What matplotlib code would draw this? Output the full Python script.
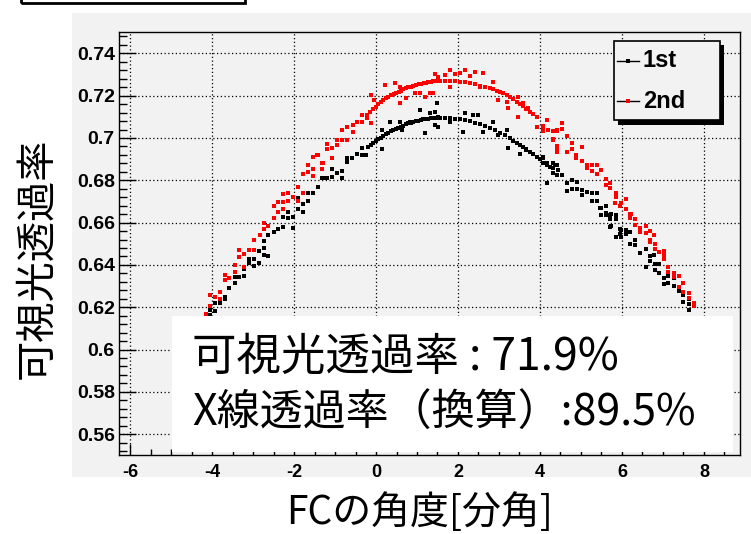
import numpy as np
import matplotlib
matplotlib.use("Agg")
import matplotlib.pyplot as plt
from matplotlib.patches import Rectangle
from matplotlib.lines import Line2D
from matplotlib.ticker import MultipleLocator

plt.rcParams['axes.unicode_minus'] = False

# (angle [arcmin], visible transmittance)
first_run = [
    (-4.17, 0.611), (-4.15, 0.6145), (-4.05, 0.6165), (-4.05, 0.6185), (-3.93, 0.618), (-3.93, 0.622),
    (-3.80, 0.622), (-3.68, 0.624), (-3.68, 0.625), (-3.59, 0.629), (-3.44, 0.6314), (-3.44, 0.6345),
    (-3.34, 0.6345), (-3.22, 0.6348), (-3.22, 0.638), (-3.10, 0.641), (-3.10, 0.643), (-2.98, 0.643),
    (-2.98, 0.6395), (-2.85, 0.641), (-2.85, 0.6465), (-2.73, 0.648), (-2.73, 0.6447), (-2.73, 0.6515),
    (-2.63, 0.644), (-2.63, 0.654), (-2.49, 0.6557), (-2.39, 0.657), (-2.27, 0.6578), (-2.27, 0.6628),
    (-2.15, 0.665), (-2.15, 0.662), (-2.02, 0.6628), (-2.02, 0.6575), (-1.90, 0.6665), (-1.90, 0.6717),
    (-1.78, 0.665), (-1.78, 0.669), (-1.66, 0.674), (-1.66, 0.670), (-1.54, 0.674), (-1.41, 0.677),
    (-1.29, 0.681), (-1.32, 0.681), (-1.20, 0.681), (-1.08, 0.6814), (-1.08, 0.6852), (-0.95, 0.6833),
    (-0.83, 0.6845), (-0.83, 0.681), (-0.71, 0.6888), (-0.71, 0.6904), (-0.59, 0.6904), (-0.47, 0.6924),
    (-0.35, 0.6951), (-0.35, 0.692), (-0.24, 0.692),
    (-0.20, 0.6956), (-0.13, 0.6967), (-0.07, 0.6978), (0.00, 0.6986), (0.06, 0.6994), (0.12, 0.7002),
    (0.18, 0.7009), (0.24, 0.7017), (0.30, 0.7025), (0.36, 0.7031), (0.42, 0.7038), (0.48, 0.7044),
    (0.54, 0.7049), (0.60, 0.7054), (0.66, 0.7058), (0.72, 0.7064), (0.79, 0.7069), (0.85, 0.7073),
    (0.91, 0.7077), (0.97, 0.708), (1.03, 0.7082), (1.09, 0.7085), (1.15, 0.7088), (1.21, 0.709),
    (1.27, 0.7091), (1.34, 0.7093), (1.40, 0.7095), (1.46, 0.7096), (1.52, 0.7098),
    (0.14, 0.6946), (0.34, 0.7077), (0.59, 0.7077), (0.63, 0.7038), (0.83, 0.7077), (1.07, 0.7133),
    (1.20, 0.7022), (1.32, 0.7117), (1.44, 0.7124), (1.48, 0.7164), (1.52, 0.7053), (0.14, 0.7038),
    (1.56, 0.7093), (1.68, 0.7095), (1.80, 0.7093), (1.92, 0.7092), (2.05, 0.709), (2.17, 0.7086),
    (2.29, 0.708), (2.41, 0.7073), (2.54, 0.7066), (2.66, 0.7058), (2.78, 0.7049), (2.90, 0.7037),
    (3.02, 0.7025), (3.14, 0.7012), (3.27, 0.6999), (3.35, 0.6988), (3.43, 0.6975), (3.51, 0.6966),
    (3.59, 0.6956), (3.67, 0.6946), (3.76, 0.6935), (3.84, 0.6924), (3.92, 0.6912), (4.00, 0.690),
    (1.44, 0.7061), (1.80, 0.7077), (2.12, 0.703), (2.17, 0.7117), (2.37, 0.7109), (2.49, 0.7109),
    (2.61, 0.703), (2.85, 0.7077), (2.98, 0.7014), (3.23, 0.6951), (3.19, 0.7038), (3.51, 0.6925),
    (3.67, 0.6941), (4.08, 0.6912), (4.17, 0.688), (4.37, 0.6872), (4.45, 0.6849), (4.24, 0.6865),
    (4.07, 0.6904), (4.07, 0.688), (4.18, 0.6873), (4.18, 0.6786), (4.31, 0.6884), (4.31, 0.6857),
    (4.31, 0.6833), (4.42, 0.6873), (4.42, 0.6825), (4.53, 0.6825), (4.67, 0.6786), (4.67, 0.6751),
    (4.78, 0.6802), (4.78, 0.6757), (4.90, 0.6793), (4.90, 0.6757), (5.02, 0.6754), (5.02, 0.673),
    (5.14, 0.6746), (5.26, 0.6739), (5.26, 0.6702), (5.38, 0.6741), (5.38, 0.6704), (5.49, 0.6668),
    (5.49, 0.6636), (5.61, 0.6644), (5.72, 0.6636), (5.72, 0.6616), (5.72, 0.6581), (5.85, 0.6616),
    (5.98, 0.6565), (5.98, 0.6533), (6.10, 0.6557),
    (5.47, 0.6671), (5.62, 0.6678), (5.62, 0.6636), (5.74, 0.6641), (5.85, 0.6636), (5.73, 0.6584),
    (5.85, 0.653), (5.96, 0.6568), (5.96, 0.6546), (6.09, 0.6565), (6.09, 0.6546), (6.20, 0.6557),
    (6.20, 0.6501), (6.33, 0.6517), (6.33, 0.6494), (6.44, 0.6454), (6.58, 0.6473), (6.68, 0.6442),
    (6.68, 0.6418), (6.58, 0.6391), (6.79, 0.6446), (6.80, 0.6403), (6.90, 0.6403), (6.80, 0.6376),
    (6.90, 0.6364), (7.02, 0.6336), (7.02, 0.6309), (7.13, 0.6346), (7.13, 0.6314), (7.27, 0.6336),
    (7.27, 0.6298), (7.38, 0.6278), (7.49, 0.6258), (7.49, 0.6223), (7.63, 0.6241), (7.63, 0.6217),
    (7.75, 0.6217), (7.63, 0.6186),
]

second_run = [
    (-4.15, 0.6166), (-4.05, 0.6207), (-4.05, 0.626), (-3.93, 0.625), (-3.80, 0.627), (-3.80, 0.624),
    (-3.68, 0.6352), (-3.68, 0.633), (-3.59, 0.634), (-3.44, 0.640), (-3.44, 0.6368), (-3.34, 0.647),
    (-3.34, 0.6436), (-3.22, 0.645), (-3.22, 0.639), (-3.10, 0.647), (-2.98, 0.647), (-2.98, 0.652),
    (-2.83, 0.654), (-2.73, 0.660), (-2.73, 0.657), (-2.63, 0.6584), (-2.49, 0.6622), (-2.49, 0.668),
    (-2.39, 0.6697), (-2.39, 0.665), (-2.27, 0.6697), (-2.27, 0.6735), (-2.27, 0.6665), (-2.15, 0.674),
    (-2.15, 0.670), (-2.02, 0.6722), (-1.90, 0.677), (-1.90, 0.670), (-1.78, 0.683), (-1.78, 0.674),
    (-1.66, 0.684), (-1.66, 0.687), (-1.54, 0.682), (-1.54, 0.6853), (-1.54, 0.691), (-1.41, 0.692),
    (-1.29, 0.688), (-1.44, 0.692), (-1.32, 0.688), (-1.32, 0.6853), (-1.20, 0.6972), (-1.20, 0.6948),
    (-1.08, 0.6953), (-1.08, 0.6907), (-0.96, 0.699), (-0.96, 0.6967), (-0.83, 0.7038), (-0.83, 0.699),
    (-0.71, 0.699), (-0.71, 0.7054), (-0.57, 0.7062), (-0.57, 0.703), (-0.46, 0.7077), (-0.35, 0.7077),
    (-0.35, 0.7109), (-0.23, 0.7109), (-0.23, 0.7095), (-0.11, 0.7203), (-0.11, 0.707),
    (-0.15, 0.7124), (-0.08, 0.7136), (0.00, 0.7148), (0.06, 0.716), (0.12, 0.7172), (0.18, 0.718),
    (0.24, 0.7188), (0.30, 0.7196), (0.37, 0.7203), (0.43, 0.7207), (0.49, 0.7211), (0.55, 0.7218),
    (0.61, 0.7224), (0.67, 0.723), (0.73, 0.7235), (0.79, 0.7239), (0.85, 0.7243), (0.91, 0.7247),
    (0.98, 0.7251), (1.04, 0.7253), (1.10, 0.7255), (1.16, 0.7258), (1.22, 0.7261), (1.28, 0.7264),
    (1.34, 0.7266), (1.40, 0.7268), (1.46, 0.7269),
    (0.22, 0.725), (0.46, 0.7259), (0.59, 0.7243), (0.73, 0.7188), (0.95, 0.7211), (1.07, 0.7214),
    (1.20, 0.7195), (1.32, 0.7214), (1.44, 0.7303), (1.51, 0.729), (0.59, 0.7164), (-0.04, 0.718),
    (1.56, 0.727), (1.68, 0.7271), (1.80, 0.7271), (1.92, 0.7269), (2.05, 0.7266), (2.17, 0.7263),
    (2.29, 0.7259), (2.41, 0.7253), (2.54, 0.7247), (2.66, 0.7241), (2.78, 0.7235), (2.86, 0.723),
    (2.94, 0.7224), (3.02, 0.7218), (3.10, 0.7211), (3.19, 0.7202), (3.27, 0.7192), (3.35, 0.7182),
    (3.43, 0.7172), (3.51, 0.7162), (3.59, 0.7151), (3.67, 0.7138), (3.76, 0.7124), (3.84, 0.7111),
    (3.92, 0.7098),
    (1.68, 0.7298), (1.80, 0.7322), (1.93, 0.7303), (2.05, 0.7306), (2.17, 0.7322), (2.29, 0.7293),
    (2.41, 0.7313), (2.61, 0.7306), (2.85, 0.7266), (1.40, 0.7211), (1.80, 0.7243), (2.54, 0.7243),
    (2.98, 0.718), (3.19, 0.7172), (3.23, 0.714), (3.46, 0.7195), (3.59, 0.7164), (3.71, 0.714),
    (3.46, 0.7101), (3.92, 0.7053), (4.17, 0.7085), (4.08, 0.7038), (4.20, 0.7038), (4.41, 0.7038),
    (4.33, 0.6991), (4.41, 0.6959), (4.41, 0.6943),
    (4.07, 0.7057), (4.07, 0.7035), (4.18, 0.7086), (4.31, 0.7035), (4.31, 0.6994), (4.42, 0.7035),
    (4.42, 0.6962), (4.42, 0.6935), (4.53, 0.7072), (4.53, 0.7041), (4.67, 0.7009), (4.67, 0.6935),
    (4.78, 0.6978), (4.78, 0.6947), (4.88, 0.692), (4.88, 0.6904), (5.02, 0.6959), (5.02, 0.6893),
    (5.14, 0.6873), (5.14, 0.6857), (5.26, 0.6844), (5.26, 0.6873), (5.38, 0.6873), (5.38, 0.683),
    (5.49, 0.6849), (5.61, 0.6805), (5.61, 0.6778), (5.72, 0.6789), (5.72, 0.6763), (5.85, 0.6741),
    (5.85, 0.6719), (5.98, 0.6694), (6.10, 0.671), (6.10, 0.6663), (6.21, 0.6641), (6.33, 0.6616),
    (6.33, 0.6589),
    (5.83, 0.6694), (5.96, 0.6678), (6.09, 0.6662), (6.20, 0.6641), (6.20, 0.662), (6.44, 0.6573),
    (6.44, 0.6557), (6.58, 0.6584), (6.58, 0.6552), (6.68, 0.6561), (6.79, 0.6541), (6.68, 0.652),
    (6.68, 0.6509), (6.80, 0.6501), (6.80, 0.6473), (6.90, 0.6462), (7.02, 0.6466), (7.02, 0.6446),
    (7.02, 0.6426), (7.13, 0.6391), (7.13, 0.6367), (7.27, 0.6363), (7.27, 0.6341), (7.38, 0.6347),
    (7.38, 0.6294), (7.49, 0.6316), (7.49, 0.6274), (7.63, 0.6269), (7.63, 0.6243), (7.75, 0.6222),
    (7.75, 0.6206),
]

y_ticks = [0.56, 0.58, 0.6, 0.62, 0.64, 0.66, 0.68, 0.7, 0.72, 0.74]
y_ticklabels = ["0.56", "0.58", "0.6", "0.62", "0.64", "0.66", "0.68", "0.7", "0.72", "0.74"]
x_ticks = [-6, -4, -2, 0, 2, 4, 6, 8]
labels = ["1st", "2nd"]
colors = ["black", "#ff0000"]
box_lines = ["可視光透過率 : 71.9%", "X線透過率（換算）:89.5%"]

W, H = 751, 534
fig = plt.figure(figsize=(W / 100, H / 100), dpi=100)

def fx(px):
    return px / W

def fy(py):
    return 1 - py / H

# grey pad like the ROOT canvas
fig.patches.append(Rectangle((fx(72), fy(477)), fx(751 - 72), (477 - 13) / H,
                             transform=fig.transFigure, facecolor='#f2f2f2', edgecolor='none', zorder=-5))
# box at top-left (cut off)
fig.patches.append(Rectangle((fx(21), fy(3)), fx(245 - 21), 20 / H, transform=fig.transFigure,
                             facecolor='none', edgecolor='black', linewidth=2, zorder=1))

ax = fig.add_axes([fx(119), fy(455.3), fx(740 - 119), (455.3 - 32.2) / H])
ax.set_facecolor('#f2f2f2')

for pts, c in zip([first_run, second_run], colors):
    a = np.array(pts)
    ax.plot(a[:, 0], a[:, 1], 's', color=c, ms=3.0, mew=0, zorder=3)

ax.set_xlim(-6.27, 8.88)
ax.set_ylim(0.55, 0.75)
ax.set_xticks(x_ticks)
ax.set_xticklabels([str(v) for v in x_ticks])
ax.set_yticks(y_ticks)
ax.set_yticklabels(y_ticklabels)
ax.xaxis.set_minor_locator(MultipleLocator(0.5))
ax.yaxis.set_minor_locator(MultipleLocator(0.004))
ax.tick_params(axis='x', which='major', direction='in', length=8, width=1, pad=6)
ax.tick_params(axis='x', which='minor', direction='in', length=4, width=1)
ax.tick_params(axis='y', which='major', direction='in', length=12, width=1, pad=3)
ax.tick_params(axis='y', which='minor', direction='in', length=6, width=1)
for lab in ax.get_xticklabels():
    lab.set_fontfamily('Liberation Sans')
    lab.set_fontweight('bold')
    lab.set_fontsize(13)
for lab in ax.get_yticklabels():
    lab.set_fontfamily('Liberation Sans')
    lab.set_fontweight('bold')
    lab.set_fontsize(14)
ax.grid(True, which='major', color='black', linestyle=(0, (1, 2)), linewidth=0.9)
for s in ax.spines.values():
    s.set_linewidth(1)

# legend box drawn ROOT-style (shadow bottom/right)
fig.patches.append(Rectangle((fx(618), fy(125)), fx(106), 80 / H, transform=fig.transFigure,
                             facecolor='black', edgecolor='none', zorder=6))
fig.patches.append(Rectangle((fx(614), fy(120)), fx(106), 79 / H, transform=fig.transFigure,
                             facecolor='#f2f2f2', edgecolor='black', linewidth=1.2, zorder=7))
for i, (lab, c) in enumerate(zip(labels, colors)):
    yy = fy(61 + 40 * i)
    fig.add_artist(Line2D([fx(617), fx(639)], [yy, yy], color='black', lw=1,
                          transform=fig.transFigure, zorder=8))
    fig.add_artist(Line2D([fx(628)], [yy], marker='s', ms=3.2, mew=0, color=c,
                          transform=fig.transFigure, zorder=9))
    fig.text(fx(643), yy, lab, family='Liberation Sans', weight='bold', fontsize=17,
             va='center', ha='left', zorder=9)

# white text box over the plot
fig.patches.append(Rectangle((fx(172), fy(452)), fx(733 - 172), (452 - 316) / H,
                             transform=fig.transFigure, facecolor='white', edgecolor='none', zorder=10))
cjk = ['Noto Sans CJK JP', 'DejaVu Sans']
fig.text(fx(192), fy(357), box_lines[0], family=cjk, fontsize=32, va='center', ha='left', zorder=11)
fig.text(fx(192), fy(414), box_lines[1], family=cjk, fontsize=31, va='center', ha='left', zorder=11)

fig.text(fx(37), fy(258), "可視光透過率", family=cjk, fontsize=29, rotation=90,
         va='center', ha='center')
fig.text(fx(420), fy(513), "FCの角度[分角]", family=cjk, fontsize=28, va='center', ha='center')

fig.savefig('out.png', dpi=100)
